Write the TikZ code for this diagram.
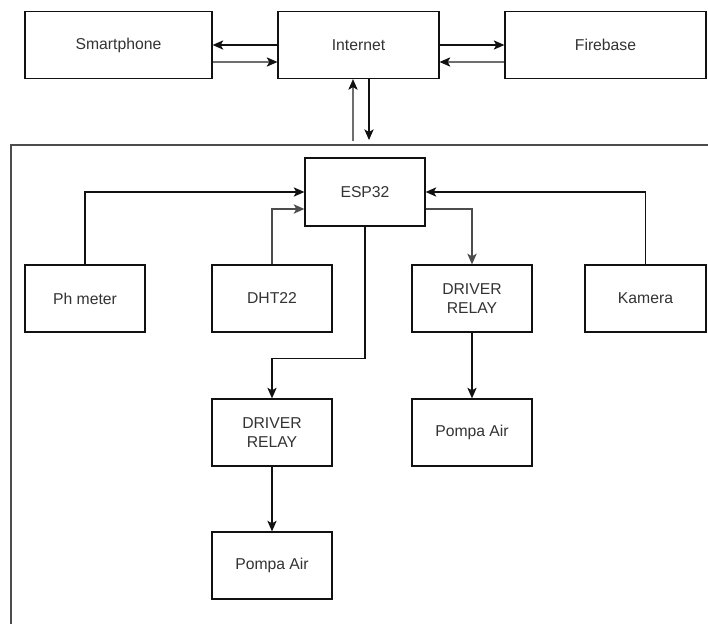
\documentclass[tikz,border=0pt]{standalone}
\usepackage{fontspec}
\setmainfont{Liberation Sans}
\usetikzlibrary{arrows.meta,calc}
\definecolor{txt}{HTML}{333333}
\definecolor{ln}{HTML}{111111}
\definecolor{lg}{HTML}{6E6E6E}
\begin{document}
\begin{tikzpicture}[x=0.75pt,y=-0.75pt,
  blk/.style={draw=ln,line width=0.95pt,fill=white,inner sep=0pt,text=txt,
    font=\fontsize{11.8}{14}\selectfont,align=center,minimum height=50.25pt},
  arr/.style={draw=ln,line width=0.85pt,-{Stealth[length=8pt,width=7pt,inset=2pt]}},
  arrg/.style={arr,draw=lg,line width=1.5pt,-{Stealth[length=8pt,width=7pt,inset=2pt,color=ln,line width=0.5pt]}},
  frame/.style={draw=black!70,line width=1.2pt}]
\useasboundingbox (0,0) rectangle (708,624);
\draw[frame] (11,624) -- (11,145) -- (708,145);
% top row
\node[blk,minimum width=140.25pt] (sp) at (118.5,45) {Smartphone};
\node[blk,minimum width=120.75pt] (in) at (358.5,45) {Internet};
\node[blk,minimum width=150.75pt] (fb) at (605.5,45) {Firebase};
% inner boxes
\node[blk,minimum width=90pt,minimum height=51pt] (esp) at (365,192) {ESP32};
\node[blk,minimum width=90pt] (ph) at (85,298.5) {Ph meter};
\node[blk,minimum width=90pt] (dht) at (272,298.5) {DHT22};
\node[blk,minimum width=90pt] (dr1) at (472,298.5) {DRIVER\\RELAY};
\node[blk,minimum width=90.75pt] (kam) at (645.5,298.5) {Kamera};
\node[blk,minimum width=90pt] (dr2) at (272,432.5) {DRIVER\\RELAY};
\node[blk,minimum width=90pt] (pa1) at (472,432.5) {Pompa Air};
\node[blk,minimum width=90pt] (pa2) at (272,565.5) {Pompa Air};
% top connectors
\draw[arr] (in.west) -- (sp.east);
\draw[arrg] ($(sp.east)+(0,17)$) -- ($(in.west)+(0,17)$);
\draw[arr] (in.east) -- (fb.west);
\draw[arrg] ($(fb.west)+(0,17)$) -- ($(in.east)+(0,17)$);
\coordinate (up0) at (353,141);
\coordinate (dn1) at (369,140);
\draw[arrg] (up0) -- (up0 |- in.south);
\draw[arr] (dn1 |- in.south) -- (dn1);
% inner connectors
\draw[arr] (ph.north) |- (esp.west);
\draw[arr,draw=black!70,line width=1.1pt] (dht.north) |- ($(esp.west)+(0,17)$);
\draw[arr] (kam.north) |- (esp.east);
\draw[arr,draw=black!70,line width=1.1pt] ($(esp.east)+(0,17)$) -| (dr1.north);
\draw[arr] (esp.south) -- ++(0,132) -| (dr2.north);
\draw[arr] (dr1.south) -- (pa1.north);
\draw[arr] (dr2.south) -- (pa2.north);
\end{tikzpicture}
\end{document}
